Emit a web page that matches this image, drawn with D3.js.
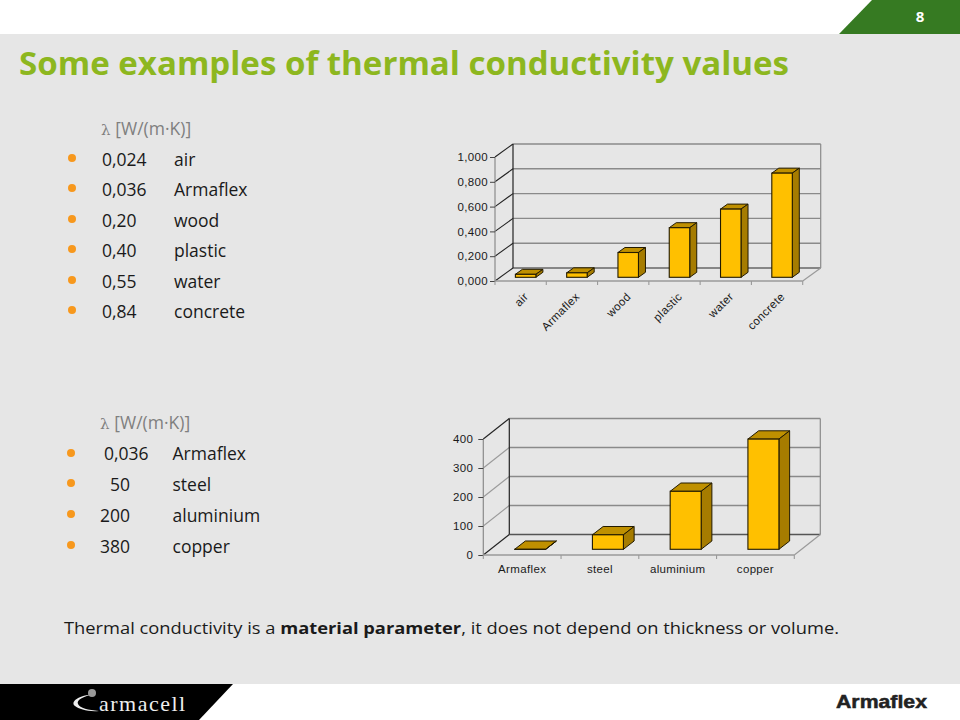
<!DOCTYPE html>
<html><head><meta charset="utf-8">
<script src="https://cdn.jsdelivr.net/npm/d3@7"></script>
<style>html,body{margin:0;padding:0;background:#fff;overflow:hidden}svg{display:block}</style>
</head><body><svg id="c" width="960" height="720"></svg>
<script>
const titleText = "Some examples of thermal conductivity values";
const pageNumber = "8";
const unitLabel = "[W/(m·K)]";
const listOneValues = ["0,024","0,036","0,20","0,40","0,55","0,84"];
const listOneNames = ["air","Armaflex","wood","plastic","water","concrete"];
const listTwoValues = ["0,036","50","200","380"];
const listTwoNames = ["Armaflex","steel","aluminium","copper"];
const chartOneCategories = ["air","Armaflex","wood","plastic","water","concrete"];
const chartOneValues = [0.024,0.036,0.20,0.40,0.55,0.84];
const chartOneTicks = [0,0.2,0.4,0.6,0.8,1.0];
const chartTwoCategories = ["Armaflex","steel","aluminium","copper"];
const chartTwoValues = [0.036,50,200,380];
const chartTwoTicks = [0,100,200,300,400];

const svg = d3.select("#c");
const SANS = "'Open Sans',sans-serif";
svg.append("rect").attr("width",960).attr("height",720).attr("fill","#fff");
svg.append("rect").attr("y",34).attr("width",960).attr("height",650).attr("fill","#E6E6E6");
svg.append("path").attr("d","M839,34L872,0H960V34Z").attr("fill","#367A22");
svg.append("path").attr("d","M0,684H233L199,720H0Z").attr("fill","#000");
svg.append("text").text(pageNumber).attr("x",920).attr("y",22).attr("text-anchor","middle")
  .attr("font-family",SANS).attr("font-weight",700).attr("font-size",15).attr("fill","#fff");
svg.append("text").text(titleText).attr("x",19).attr("y",75).attr("font-family",SANS).attr("font-weight",700)
  .attr("font-size",33).attr("fill","#8DB71F").attr("textLength",770).attr("lengthAdjust","spacingAndGlyphs");

function list(o){
  const g = svg.append("g").attr("font-family",SANS).attr("font-size",17.5).attr("fill","#1a1a1a");
  const h = g.append("text").attr("x",o.hx).attr("y",o.hy).attr("fill","#7f7f7f");
  h.append("tspan").text("λ ").attr("font-family","'DejaVu Serif',serif").attr("font-size",15);
  h.append("tspan").text(unitLabel);
  o.values.forEach((v,i)=>{
    g.append("circle").attr("cx",o.bx).attr("cy",o.by[i]).attr("r",4).attr("fill","#F7981D");
    g.append("text").text(v).attr("x",o.vx[i]).attr("y",o.ty[i]);
    g.append("text").text(o.names[i]).attr("x",o.nx).attr("y",o.ty[i]);
  });
}
list({hx:101,hy:135,bx:72,values:listOneValues,names:listOneNames,
  by:[158,188,219,249,280,310],ty:[166,196,227,257,288,318],vx:[102,102,102,102,102,102],nx:174});
list({hx:100,hy:429,bx:71,values:listTwoValues,names:listTwoNames,
  by:[453,483,514,545],ty:[460,491,522,553],vx:[104,110,100,100],nx:172.5});

const foot = svg.append("text").attr("x",64).attr("y",634).attr("font-family",SANS).attr("font-size",16.5)
  .attr("fill","#1a1a1a").attr("textLength",775).attr("lengthAdjust","spacingAndGlyphs");
foot.append("tspan").text("Thermal conductivity is a ");
foot.append("tspan").text("material parameter").attr("font-weight",700);
foot.append("tspan").text(", it does not depend on thickness or volume.");

function chart(o){
  const {x0,x1,y0,yTop,dx,dy,bdx,bdy,lift,shift,bw} = o;
  const g = svg.append("g");
  const x = d3.scaleBand().domain(o.categories).range([x0,x1]);
  const y = d3.scaleLinear().domain(o.domain).range([y0,yTop]);
  const line=(a,b,c,d,col,w)=>g.append("line").attr("x1",a).attr("y1",b).attr("x2",c).attr("y2",d).attr("stroke",col).attr("stroke-width",w);
  // back wall grid + left wall diagonals
  o.ticks.forEach((t,i)=>{
    const yy=y(t);
    const first=i===0,last=i===o.ticks.length-1;
    line(x0+dx,yy+dy,x1+dx,yy+dy,first?o.floorCol:"#8a8a8a",1.4);
    line(x0,yy,x0+dx,yy+dy,(first||last)?"#222":o.diagCol,1.1);
  });
  line(x0,y0,x0,yTop,"#8a8a8a",1.2);
  line(x0+dx,y0+dy,x0+dx,yTop+dy,"#222",1.2);
  line(x1+dx,y0+dy,x1+dx,yTop+dy,"#8a8a8a",1.2);
  line(x0,y0,x1,y0,"#9a9a9a",1.4);
  line(x1,y0,x1+dx,y0+dy,"#9a9a9a",1.2);
  // axes
  const ay = d3.axisLeft(y).tickValues(o.ticks).tickSize(5).tickPadding(o.tickPad).tickFormat(o.fmt);
  const ag = g.append("g").attr("transform",`translate(${x0},0)`).call(ay);
  ag.select(".domain").remove();
  ag.selectAll("line").attr("stroke","#444");
  ag.selectAll("text").attr("font-family","'Liberation Sans',Arial,sans-serif").attr("font-size",o.fs).attr("fill","#1a1a1a").attr("letter-spacing",o.ls);
  // category ticks
  const edges = x.domain().map(c=>x(c)).concat([x1]);
  g.selectAll(null).data(edges).join("line").attr("x1",d=>d).attr("x2",d=>d).attr("y1",y0).attr("y2",y0+4).attr("stroke","#9a9a9a").attr("stroke-width",1.1);
  // bars
  const bars = g.selectAll(null).data(o.values).join("g");
  const L = (d,i)=>x(o.categories[i])+x.bandwidth()/2+shift-bw/2;
  const B = y0-lift;
  const T = d=>B-(y0-y(d));
  bars.append("path").attr("d",(d,i)=>{const l=L(d,i),r=l+bw,t=T(d);return `M${l},${t}L${l+bdx},${t-bdy}H${r+bdx}L${r},${t}Z`;})
    .attr("fill","#BF9000").attr("stroke","#221a00").attr("stroke-width",1);
  bars.append("path").attr("d",(d,i)=>{const r=L(d,i)+bw,t=T(d);return `M${r},${t}L${r+bdx},${t-bdy}V${B-bdy}L${r},${B}Z`;})
    .attr("fill","#A67C00").attr("stroke","#221a00").attr("stroke-width",1);
  bars.append("rect").attr("x",(d,i)=>L(d,i)).attr("y",T).attr("width",bw).attr("height",d=>B-T(d))
    .attr("fill","#FFC000").attr("stroke","#221a00").attr("stroke-width",1.1);
  // category labels
  const labels = g.selectAll(null).data(o.categories).join("text").text(d=>d)
    .attr("font-family","'Liberation Sans',Arial,sans-serif").attr("font-size",o.fs).attr("fill","#1a1a1a").attr("letter-spacing",o.ls);
  if(o.rotate){
    labels.attr("text-anchor","end").attr("transform",d=>`translate(${x(d)+x.bandwidth()/2+2},${y0+10}) rotate(-45) translate(0,9)`);
  } else {
    labels.attr("text-anchor","middle").attr("x",d=>x(d)+x.bandwidth()/2+o.labelShift).attr("y",y0+18);
  }
}
chart({categories:chartOneCategories,values:chartOneValues,ticks:chartOneTicks,domain:[0,1],
  x0:495,x1:802.7,y0:281,yTop:157,dx:18,dy:-13,bdx:7,bdy:5,lift:3.7,shift:5,bw:20.5,
  fs:11.5,ls:0.35,tickPad:2,fmt:d3.format(".3f"),rotate:true,diagCol:"#222",floorCol:"#666"});
// comma decimals
svg.selectAll("g.tick text").text(function(){return this.textContent.replace(".",",");});
chart({categories:chartTwoCategories,values:chartTwoValues,ticks:chartTwoTicks,domain:[0,400],
  x0:483.3,x1:794.3,y0:555,yTop:439,dx:26,dy:-20.5,bdx:10.7,bdy:8.3,lift:5.7,shift:8,bw:31,
  fs:11.5,ls:0.35,tickPad:5,fmt:d3.format("d"),rotate:false,labelShift:0,diagCol:"#9a9a9a",floorCol:"#555"});

// logos
const lg = svg.append("g");
lg.append("text").text("armacell").attr("x",99).attr("y",711).attr("font-family","'Liberation Serif',serif")
  .attr("font-size",22).attr("fill","#eee").attr("letter-spacing",1.5);
lg.append("path").attr("d","M95,694C78,695 70,702 75,706C79,709 88,712 99,711C88,710 80,708 78,704C76,700 84,696 95,694Z").attr("fill","#eee");
lg.append("circle").attr("cx",92).attr("cy",693).attr("r",4).attr("fill","#999");
svg.append("text").text("Armaflex").attr("x",836).attr("y",708).attr("font-family","'Liberation Sans',Arial,sans-serif")
  .attr("font-weight",700).attr("font-size",19).attr("fill","#222").attr("stroke","#222").attr("stroke-width",0.5).attr("textLength",91).attr("lengthAdjust","spacingAndGlyphs");
</script></body></html>
